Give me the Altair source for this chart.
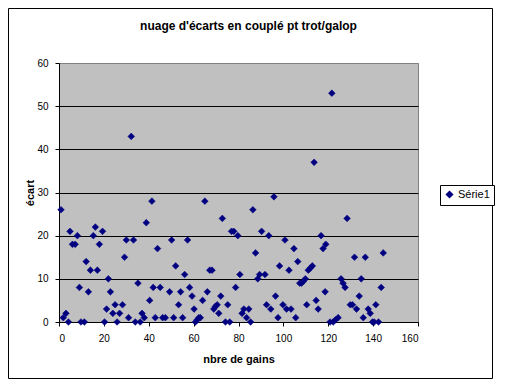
import altair as alt
import pandas as pd

gains = [0.9, 1.9, 3.1, 4.2, 4.9, 6.0, 7.2, 8.2, 9.1, 9.8, 11.3, 12.1, 13.1, 14.0, 15.3, 16.2, 17.1, 18.0, 19.4,
         20.3, 21.2, 22.0, 22.9, 24.0, 25.0, 25.9, 27.0, 28.3, 29.2, 30.0, 31.0, 32.2, 33.2, 34.0, 35.2, 36.2,
         37.0, 38.0, 38.9, 40.4, 41.4, 42.0, 42.9, 43.9, 45.1, 46.2, 47.4, 49.3, 50.2, 51.1, 52.0, 53.3, 54.2,
         55.1, 56.0, 57.3, 58.2, 59.3, 60.2, 60.8, 61.6, 62.3, 63.0, 64.0, 65.0, 66.1, 67.2, 68.2, 69.0, 69.7,
         70.5, 71.2, 72.1, 72.8, 74.2, 75.2, 76.1, 76.9, 77.9, 78.7, 79.7, 80.6, 81.6, 82.4, 83.6, 84.6, 85.4,
         86.4, 87.6, 88.6, 89.4, 90.3, 91.8, 92.5, 93.5, 94.4, 95.8, 96.5, 97.6, 98.3, 99.8, 100.7, 101.4,
         102.5, 103.4, 104.7, 105.5, 106.4, 107.3, 108.1, 109.0, 109.8, 110.4, 111.1, 112.0, 112.9, 113.7,
         114.6, 115.5, 116.8, 117.7, 118.6, 118.9, 120.8, 121.6, 122.2, 123.2, 124.4, 125.7, 126.6, 127.5,
         128.4, 129.8, 130.8, 131.7, 132.6, 133.8, 134.7, 135.6, 136.5, 137.8, 138.7, 139.7, 140.5, 141.2,
         142.4, 143.6, 144.5]
ecarts = [26, 1, 2, 0, 21, 18, 18, 20, 8, 0, 0, 14, 7, 12, 20, 22, 12, 18, 21,
          0, 3, 10, 7, 2, 4, 0, 2, 4, 15, 19, 1, 43, 19, 0, 9, 0,
          2, 1, 23, 5, 28, 8, 1, 17, 8, 1, 1, 7, 19, 1, 13, 4, 7,
          1, 11, 19, 8, 6, 3, 0, 0.5, 1, 1, 5, 28, 7, 12, 12, 3, 3.6,
          4, 2, 6, 24, 0, 4, 0, 21, 21, 8, 20, 11, 2, 3, 1, 3, 0,
          26, 16, 10, 11, 21, 11, 4, 20, 3, 29, 6, 1, 13, 4, 19, 3,
          12, 3, 17, 1, 14, 9, 9, 9.5, 10, 4, 12, 12.5, 13, 37,
          5, 3, 20, 17, 7, 18, 0, 53, 0, 0.5, 1, 10, 9, 8,
          24, 4, 4, 15, 3, 6, 10, 1, 15, 3, 2, 0, 0, 4,
          0, 8, 16]
serie = ["Série1"] * len(gains)

df = pd.DataFrame({"gains": gains, "ecart": ecarts, "serie": serie})
FONT = "Liberation Sans"

points = alt.Chart(df).mark_point(
    shape="diamond", filled=True, size=45, opacity=1, strokeWidth=0.5, stroke="#000080"
).encode(
    x=alt.X("gains:Q",
            scale=alt.Scale(domain=[0, 160], nice=False, zero=True),
            axis=alt.Axis(values=list(range(0, 161, 20)), title="nbre de gains", grid=False,
                          tickSize=4, labelPadding=7, titleY=37, titleBaseline="middle",
                          titleFontSize=11, titleFontWeight="bold")),
    y=alt.Y("ecart:Q",
            scale=alt.Scale(domain=[0, 60], nice=False),
            axis=alt.Axis(values=list(range(0, 61, 10)), title="écart", grid=True,
                          gridColor=alt.condition("datum.value == 60", alt.value("#808080"), alt.value("black")),
                          tickSize=4, labelPadding=7, titleX=-29, titleY=129.5,
                          titleAngle=270, titleAlign="center", titleBaseline="middle",
                          titleFontSize=11, titleFontWeight="bold")),
    color=alt.Color("serie:N", scale=alt.Scale(range=["#000080"]),
                    legend=alt.Legend(title=None, orient="none", legendX=381, legendY=122,
                                      strokeColor="black", fillColor="white", padding=4,
                                      symbolType="diamond", symbolSize=36, labelFontSize=11,
                                      labelOffset=3, labelFont=FONT, labelColor="black")),
)

frame = alt.Chart(pd.DataFrame({"k": [0]})).mark_rect(
    fill="transparent", stroke="black", strokeWidth=1
).encode(
    x=alt.value(-50.5), x2=alt.value(433.5), y=alt.value(-54.5), y2=alt.value(315.5)
)

chart = alt.layer(frame, points).properties(
    width=359, height=259,
    autosize=alt.AutoSizeParams(type="none"),
    padding={"left": 51, "top": 55, "right": 86, "bottom": 57},
    title=alt.TitleParams(text="nuage d'écarts en couplé pt trot/galop", anchor="middle", frame="group",
                          dx=10, offset=-29.5, fontSize=12, font=FONT, fontWeight="bold", color="black",
                          baseline="middle"),
    background="white",
).configure_view(
    fill="#C0C0C0", stroke="#808080", strokeWidth=1
).configure_axis(
    domainColor="black", tickColor="black", labelColor="black", titleColor="black",
    labelFont=FONT, titleFont=FONT, labelFontSize=10, domainWidth=1, gridWidth=1
)

chart.save("out.html", embed_options={"renderer": "svg", "actions": False})
